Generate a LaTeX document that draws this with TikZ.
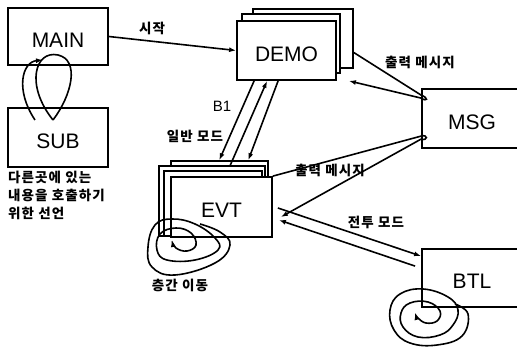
\documentclass[tikz,border=0pt]{standalone}
\usepackage{fontspec}
\setmainfont{Liberation Sans}
\newfontfamily\kr[LetterSpace=8]{Noto Sans CJK KR}
\usetikzlibrary{arrows.meta}

\begin{document}
\begin{tikzpicture}[x=1pt,y=-1pt,
		blk/.style={draw, line width=1.8pt, fill=white, inner sep=0pt, minimum width=100pt, minimum height=58pt, font=\fontsize{21}{21}\selectfont, text height=22pt, text depth=0pt},
		sheet/.style={draw, line width=1.5pt, fill=white, inner sep=0pt},
		flow/.style={line width=1.6pt, -{Latex[length=7pt,width=5pt]}},
		wire/.style={line width=1.6pt},
		lbl/.style={font=\kr\bfseries\fontsize{13.5}{18}\selectfont, inner sep=0pt}]
		% Parameters
		\def\ps{0.7}
		\useasboundingbox (0,0) rectangle (517,347);
		
		%blocks
		\node[blk, minimum height=57pt] (main) at (58,36.5) {MAIN};
		\node[blk, minimum height=59pt] (sub) at (58,137.5) {SUB};
		
		\node[sheet, minimum width=100pt, minimum height=59pt] (demob) at (303,38.5) {};
		\node[sheet, minimum width=98pt, minimum height=59pt] (demoa) at (291,43.5) {};
		\node[blk, minimum width=99pt, minimum height=59pt] (demo) at (286.5,50.5) {DEMO};
		
		\node[sheet, minimum width=97pt, minimum height=75pt] (evtc) at (219.5,198.5) {};
		\node[sheet, minimum width=106pt, minimum height=70pt] (evtb) at (212,201) {};
		\node[sheet, minimum width=98pt, minimum height=65pt] (evta) at (213,203.5) {};
		\node[blk, minimum width=101pt, minimum height=60pt] (evt) at (221.5,207) {EVT};
		
		\node[blk, minimum height=59pt] (msg) at (472,118.5) {MSG};
		\node[blk] (btl) at (472,278) {BTL};
		
		%calls
		\draw[flow] (main.east) -- (demo.west);
		\draw[flow] ([xshift=18pt]demo.south west) -- ([xshift=49pt]evtc.north west);
		\draw[flow] ([xshift=72pt]evtb.north west) -- ([xshift=31pt]demo.south west);
		\draw[flow] ([xshift=42pt]demo.south west) -- ([xshift=78pt]evtc.north west);
		
		%messages
		\draw[flow] ([yshift=-14pt]demob.east) -- ([yshift=-7pt]msg.north west)
			.. controls +(8,3) and +(6,4) .. ([yshift=-10pt]msg.north west) -- ([xshift=12pt]demo.south east);
		\draw[flow] (evt.north east) -- ([yshift=-48pt]msg.north west)
			.. controls +(7,-2) and +(7,2) .. ([yshift=-51pt]msg.north west) -- ([xshift=8pt,yshift=-10pt]evt.east);
		
		%battle
		\draw[flow] ([xshift=5pt,yshift=-1pt]evt.east) -- ([yshift=-8pt]btl.north west);
		\draw[flow] ([xshift=-6pt,yshift=-18pt]btl.north west) -- ([xshift=6pt,yshift=-13pt]evt.east);
		
		%loops
		\draw[flow] (35,120) .. controls (15,90) and (22,62) .. (43,60);
		\draw[wire] (53,120) .. controls (25,85) and (35,50) .. (58,55) .. controls (80,60) and (72,95) .. (53,120);
		\draw[flow] plot[smooth, tension=\ps] coordinates {(200,224) (220,232) (230,245) (215,263) (175,275) (152,267) (148,247) (155,225) (172,219) (195,224) (215,238) (218,250) (195,260) (167,260) (157,250) (160,234) (176,228) (191,233) (196,245) (187,251) (176,248) (172,240)};
		\draw[flow] plot[smooth, tension=\ps] coordinates {(455,304) (468,314) (462,336) (437,345) (410,343) (394,330) (390,310) (400,294) (423,289) (448,297) (458,310) (453,325) (440,335) (418,337) (403,327) (401,313) (410,303) (428,302) (440,311) (437,321) (426,323) (418,318) (415,313)};
		
		%labels
		\node[lbl] (start) at (152,28) {시작};
		\node[font=\fontsize{15}{15}\selectfont, inner sep=0pt] (b1) at (222,106) {B1};
		\node[lbl] (normal) at (195,136) {일반 모드};
		\node[lbl] (out1) at (420,62) {출력 메시지};
		\node[lbl] (out2) at (330,170) {출력 메시지};
		\node[lbl] (fight) at (376,222) {전투 모드};
		\node[lbl] (floor) at (180,285) {층간 이동};
		\node[lbl, anchor=north west, align=left] (note) at (8,171) {다른곳에 있는\\내용을 호출하기\\위한 선언};
		
\end{tikzpicture}
\end{document}
